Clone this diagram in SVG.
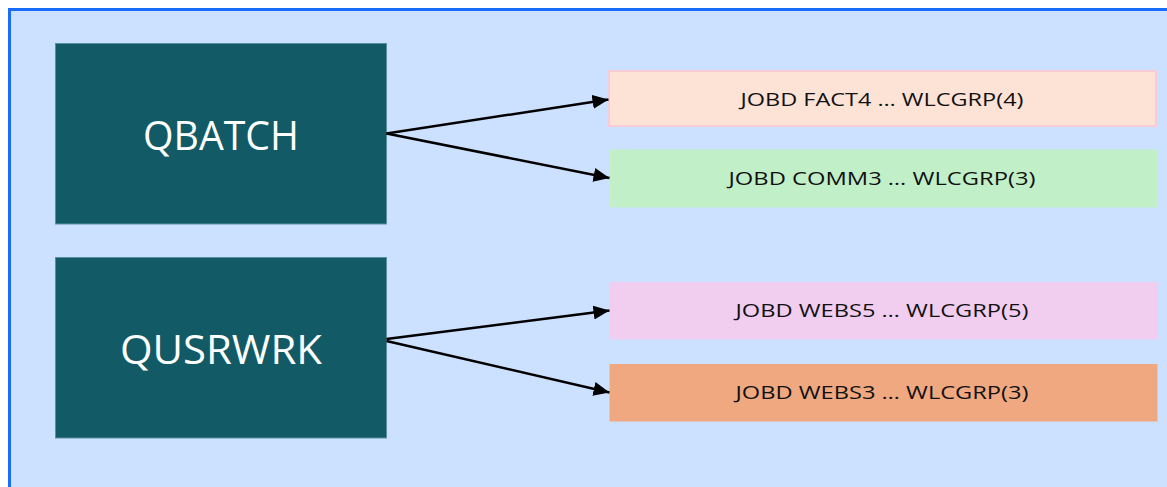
<svg xmlns="http://www.w3.org/2000/svg" width="1167" height="487" viewBox="0 0 1167 487">
<defs>
<style>
.sub{fill:#115a66;stroke:#5a8fa0;stroke-width:1}
.subt{font-family:"Open Sans","Liberation Sans",sans-serif;font-size:41px;fill:#ffffff;text-anchor:middle}
.lbl{font-family:"Open Sans","Liberation Sans",sans-serif;font-size:19px;fill:#111111;text-anchor:middle}
.conn{stroke:#000;stroke-width:2.5;fill:none;marker-end:url(#ah)}
</style>
<marker id="ah" viewBox="0 0 16 14" refX="16" refY="7" markerWidth="16" markerHeight="14" markerUnits="userSpaceOnUse" orient="auto">
<path d="M0,0 L16,7 L0,14 z" fill="#000"/>
</marker>
</defs>
<rect x="0" y="0" width="1167" height="487" fill="#ffffff"/>
<g id="container">
<rect x="9.5" y="9.5" width="1170" height="490" fill="#cce0ff" stroke="#1a6cff" stroke-width="3"/>
</g>
<g id="qbatch">
<rect class="sub" x="55.5" y="43.5" width="331" height="180.5"/>
<text class="subt" x="221" y="150" textLength="156" lengthAdjust="spacingAndGlyphs">QBATCH</text>
</g>
<g id="qusrwrk">
<rect class="sub" x="55.5" y="257.5" width="331" height="180.5"/>
<text class="subt" x="221" y="364" textLength="202" lengthAdjust="spacingAndGlyphs">QUSRWRK</text>
</g>
<g id="fact4">
<rect x="609" y="71" width="547" height="55" fill="#fce3d6" stroke="#f8ccd6" stroke-width="2"/>
<text class="lbl" x="882" y="106" textLength="283" lengthAdjust="spacingAndGlyphs">JOBD FACT4 … WLCGRP(4)</text>
</g>
<g id="comm3">
<rect x="609.5" y="149.5" width="548" height="58" fill="#c1efc8"/>
<text class="lbl" x="882" y="185" textLength="307" lengthAdjust="spacingAndGlyphs">JOBD COMM3 … WLCGRP(3)</text>
</g>
<g id="webs5">
<rect x="609.5" y="282" width="548" height="57.5" fill="#f1cdf0"/>
<text class="lbl" x="882" y="317" textLength="293" lengthAdjust="spacingAndGlyphs">JOBD WEBS5 … WLCGRP(5)</text>
</g>
<g id="webs3">
<rect x="609.5" y="364" width="548" height="57.5" fill="#f0a880"/>
<text class="lbl" x="882" y="399" textLength="293" lengthAdjust="spacingAndGlyphs">JOBD WEBS3 … WLCGRP(3)</text>
</g>
<g id="connectors">
<path class="conn" d="M386.5,133.5 L608.5,99.5"/>
<path class="conn" d="M386.5,133.5 L609.5,178"/>
<path class="conn" d="M386.5,339 L609.5,310.5"/>
<path class="conn" d="M386.5,341 L609.5,392.5"/>
</g>
</svg>
